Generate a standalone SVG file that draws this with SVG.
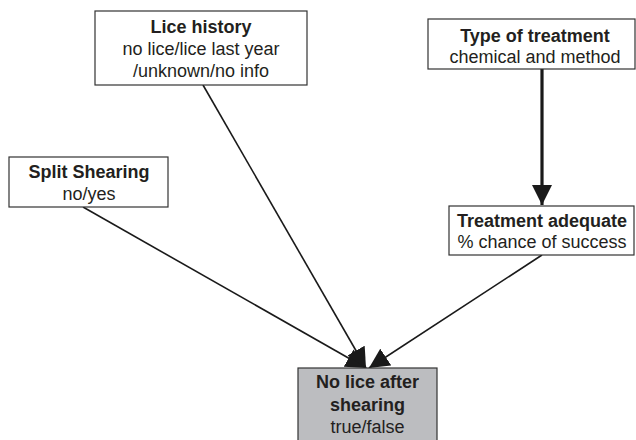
<svg xmlns="http://www.w3.org/2000/svg" width="636" height="440" viewBox="0 0 636 440">
<style>
.box{fill:#fff;stroke:#333;stroke-width:1.2}
.dark{fill:#bcbdc0;stroke:#333;stroke-width:1.2}
text{font-family:"Liberation Sans",Arial,sans-serif;font-size:18px;fill:#231f20;text-anchor:middle}
.b{font-weight:bold}
.edge{stroke:#1a1a1a;stroke-width:1.6;fill:none}
.thick{stroke:#1a1a1a;stroke-width:3.2;fill:none}
</style>
<defs>
<marker id="ah" markerWidth="20" markerHeight="20" viewBox="0 0 20 20" refX="20" refY="10" orient="auto" markerUnits="userSpaceOnUse">
<path d="M0,0 L20,10 L0,20 Z" fill="#1a1a1a"/>
</marker>
</defs>
<rect width="636" height="440" fill="#fff"/>
<g id="connectors">
<line class="edge" x1="83" y1="207" x2="366" y2="368" marker-end="url(#ah)"/>
<line class="edge" x1="203" y1="85" x2="366" y2="368" marker-end="url(#ah)"/>
<line class="edge" x1="542" y1="255" x2="369" y2="368" marker-end="url(#ah)"/>
<line class="thick" x1="542" y1="69" x2="542" y2="205" marker-end="url(#ah)"/>
</g>
<g id="lice-history">
<rect class="box" x="95" y="11" width="212" height="74"/>
<text class="b" x="201" y="33">Lice history</text>
<text x="201" y="55">no lice/lice last year</text>
<text x="201" y="77">/unknown/no info</text>
</g>
<g id="type-of-treatment">
<rect class="box" x="428" y="19" width="207" height="50"/>
<text class="b" x="535" y="42">Type of treatment</text>
<text x="535" y="63">chemical and method</text>
</g>
<g id="split-shearing">
<rect class="box" x="9" y="157" width="159" height="50"/>
<text class="b" x="89" y="178">Split Shearing</text>
<text x="89" y="200">no/yes</text>
</g>
<g id="treatment-adequate">
<rect class="box" x="449" y="206" width="185" height="49"/>
<text class="b" x="542" y="227">Treatment adequate</text>
<text x="542" y="248">% chance of success</text>
</g>
<g id="no-lice-after-shearing">
<rect class="dark" x="298" y="368" width="139" height="80"/>
<text class="b" x="367.5" y="388">No lice after</text>
<text class="b" x="367.5" y="411">shearing</text>
<text x="367.5" y="433">true/false</text>
</g>
</svg>
